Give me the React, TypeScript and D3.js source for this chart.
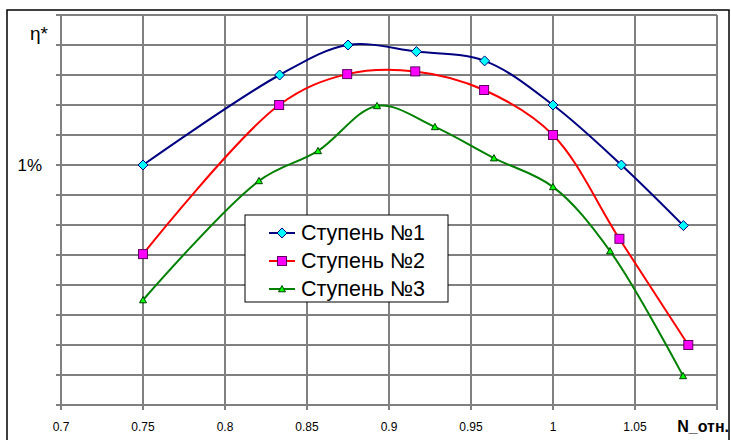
import React from "react";
import * as d3 from "d3";

const xTicks = [0.7, 0.75, 0.8, 0.85, 0.9, 0.95, 1, 1.05];
const xTickLabels = ["0.7", "0.75", "0.8", "0.85", "0.9", "0.95", "1", "1.05"];
const yGrid = d3.range(0, 14);

const s1x = [0.75, 0.8333, 0.875, 0.9167, 0.9583, 1.0, 1.0417, 1.0795];
const s1y = [8, 11, 12, 11.78, 11.47, 10, 8, 5.98];
const s2x = [0.75, 0.833, 0.8745, 0.916, 0.958, 1.0, 1.0405, 1.0825];
const s2y = [5.03, 10.0, 11.03, 11.12, 10.5, 9.0, 5.54, 2.0];
const s3x = [0.75, 0.8207, 0.8567, 0.8927, 0.928, 0.964, 1.0, 1.0348, 1.0793];
const s3y = [3.5, 7.47, 8.47, 9.97, 9.27, 8.23, 7.27, 5.13, 0.97];

const seriesNames = ["Ступень №1", "Ступень №2", "Ступень №3"];

const W = 731, H = 440;
const L = 61, R = 717, T = 15, B = 405;

export default function App() {
  const x = d3.scaleLinear().domain([0.7, 1.1]).range([L, R]);
  const y = d3.scaleLinear().domain([0, 13]).range([B, T]);
  const line = d3
    .line<[number, number]>()
    .x((d) => x(d[0]))
    .y((d) => y(d[1]))
    .curve(d3.curveCatmullRom.alpha(0.5));

  const series = [
    { xs: s1x, ys: s1y, stroke: "#000080", fill: "#00FFFF", mstroke: "#000080", marker: "diamond" },
    { xs: s2x, ys: s2y, stroke: "#FF0000", fill: "#FF00FF", mstroke: "#600060", marker: "square" },
    { xs: s3x, ys: s3y, stroke: "#008000", fill: "#00FF00", mstroke: "#004000", marker: "triangle" },
  ];

  const marker = (type: string, cx: number, cy: number, fill: string, stroke: string, key: any) => {
    if (type === "diamond") {
      const r = 5;
      return (
        <path key={key} d={`M${cx},${cy - r}L${cx + r},${cy}L${cx},${cy + r}L${cx - r},${cy}Z`} fill={fill} stroke={stroke} strokeWidth={1} />
      );
    }
    if (type === "square") {
      const r = 4.5;
      return <rect key={key} x={cx - r} y={cy - r} width={2 * r} height={2 * r} fill={fill} stroke={stroke} strokeWidth={1} />;
    }
    const r = 3.5;
    return (
      <path key={key} d={`M${cx},${cy - r}L${cx + r},${cy + r * 0.8}L${cx - r},${cy + r * 0.8}Z`} fill={fill} stroke={stroke} strokeWidth={1} />
    );
  };

  const font = "Arial, 'Liberation Sans', sans-serif";

  return (
    <svg width={W} height={H} style={{ position: "absolute", left: 0, top: 0 }} fontFamily={font}>
      <rect x={0} y={0} width={W} height={H} fill="#fff" />
      {/* outer frame */}
      <rect x={7} y={10} width={722} height={440} fill="none" stroke="#000" strokeWidth={1.5} />
      {/* horizontal grid */}
      {yGrid.map((v) => (
        <line key={"h" + v} x1={L - 5} x2={R} y1={y(v)} y2={y(v)} stroke="#000" strokeWidth={1} />
      ))}
      {/* vertical grid */}
      {[...xTicks, 1.1].map((v, i) => (
        <line key={"v" + i} x1={x(v)} x2={x(v)} y1={T} y2={B + 5} stroke="#808080" strokeWidth={2} />
      ))}
      {/* x labels */}
      {xTicks.map((v, i) => (
        <text key={"xl" + i} x={x(v)} y={431} textAnchor="middle" fontSize={12} fill="#000">
          {xTickLabels[i]}
        </text>
      ))}
      <text x={729} y={432} textAnchor="end" fontSize={16} fontWeight="bold" fill="#000">
        N_отн.
      </text>
      <text x={42} y={y(8) + 6} textAnchor="end" fontSize={17} fill="#000">
        1%
      </text>
      <text x={48} y={40} textAnchor="end" fontSize={19} fill="#000">
        η*
      </text>
      {/* series */}
      {series.map((s, si) => {
        const pts = s.xs.map((xv, i) => [xv, s.ys[i]] as [number, number]);
        return (
          <g key={"s" + si}>
            <path d={line(pts) || ""} fill="none" stroke={s.stroke} strokeWidth={2} />
            {pts.map((p, i) => marker(s.marker, x(p[0]), y(p[1]), s.fill, s.mstroke, i))}
          </g>
        );
      })}
      {/* legend */}
      <g>
        <rect x={245} y={215} width={203} height={87} fill="#fff" stroke="#000" strokeWidth={1} />
        {series.map((s, i) => {
          const cy = 233 + i * 28;
          return (
            <g key={"lg" + i}>
              <line x1={269} x2={295} y1={cy} y2={cy} stroke={s.stroke} strokeWidth={2} />
              {marker(s.marker, 282, cy, s.fill, s.mstroke, "m")}
              <text x={301} y={cy + 7} fontSize={21.5} fill="#000">
                {seriesNames[i]}
              </text>
            </g>
          );
        })}
      </g>
    </svg>
  );
}
